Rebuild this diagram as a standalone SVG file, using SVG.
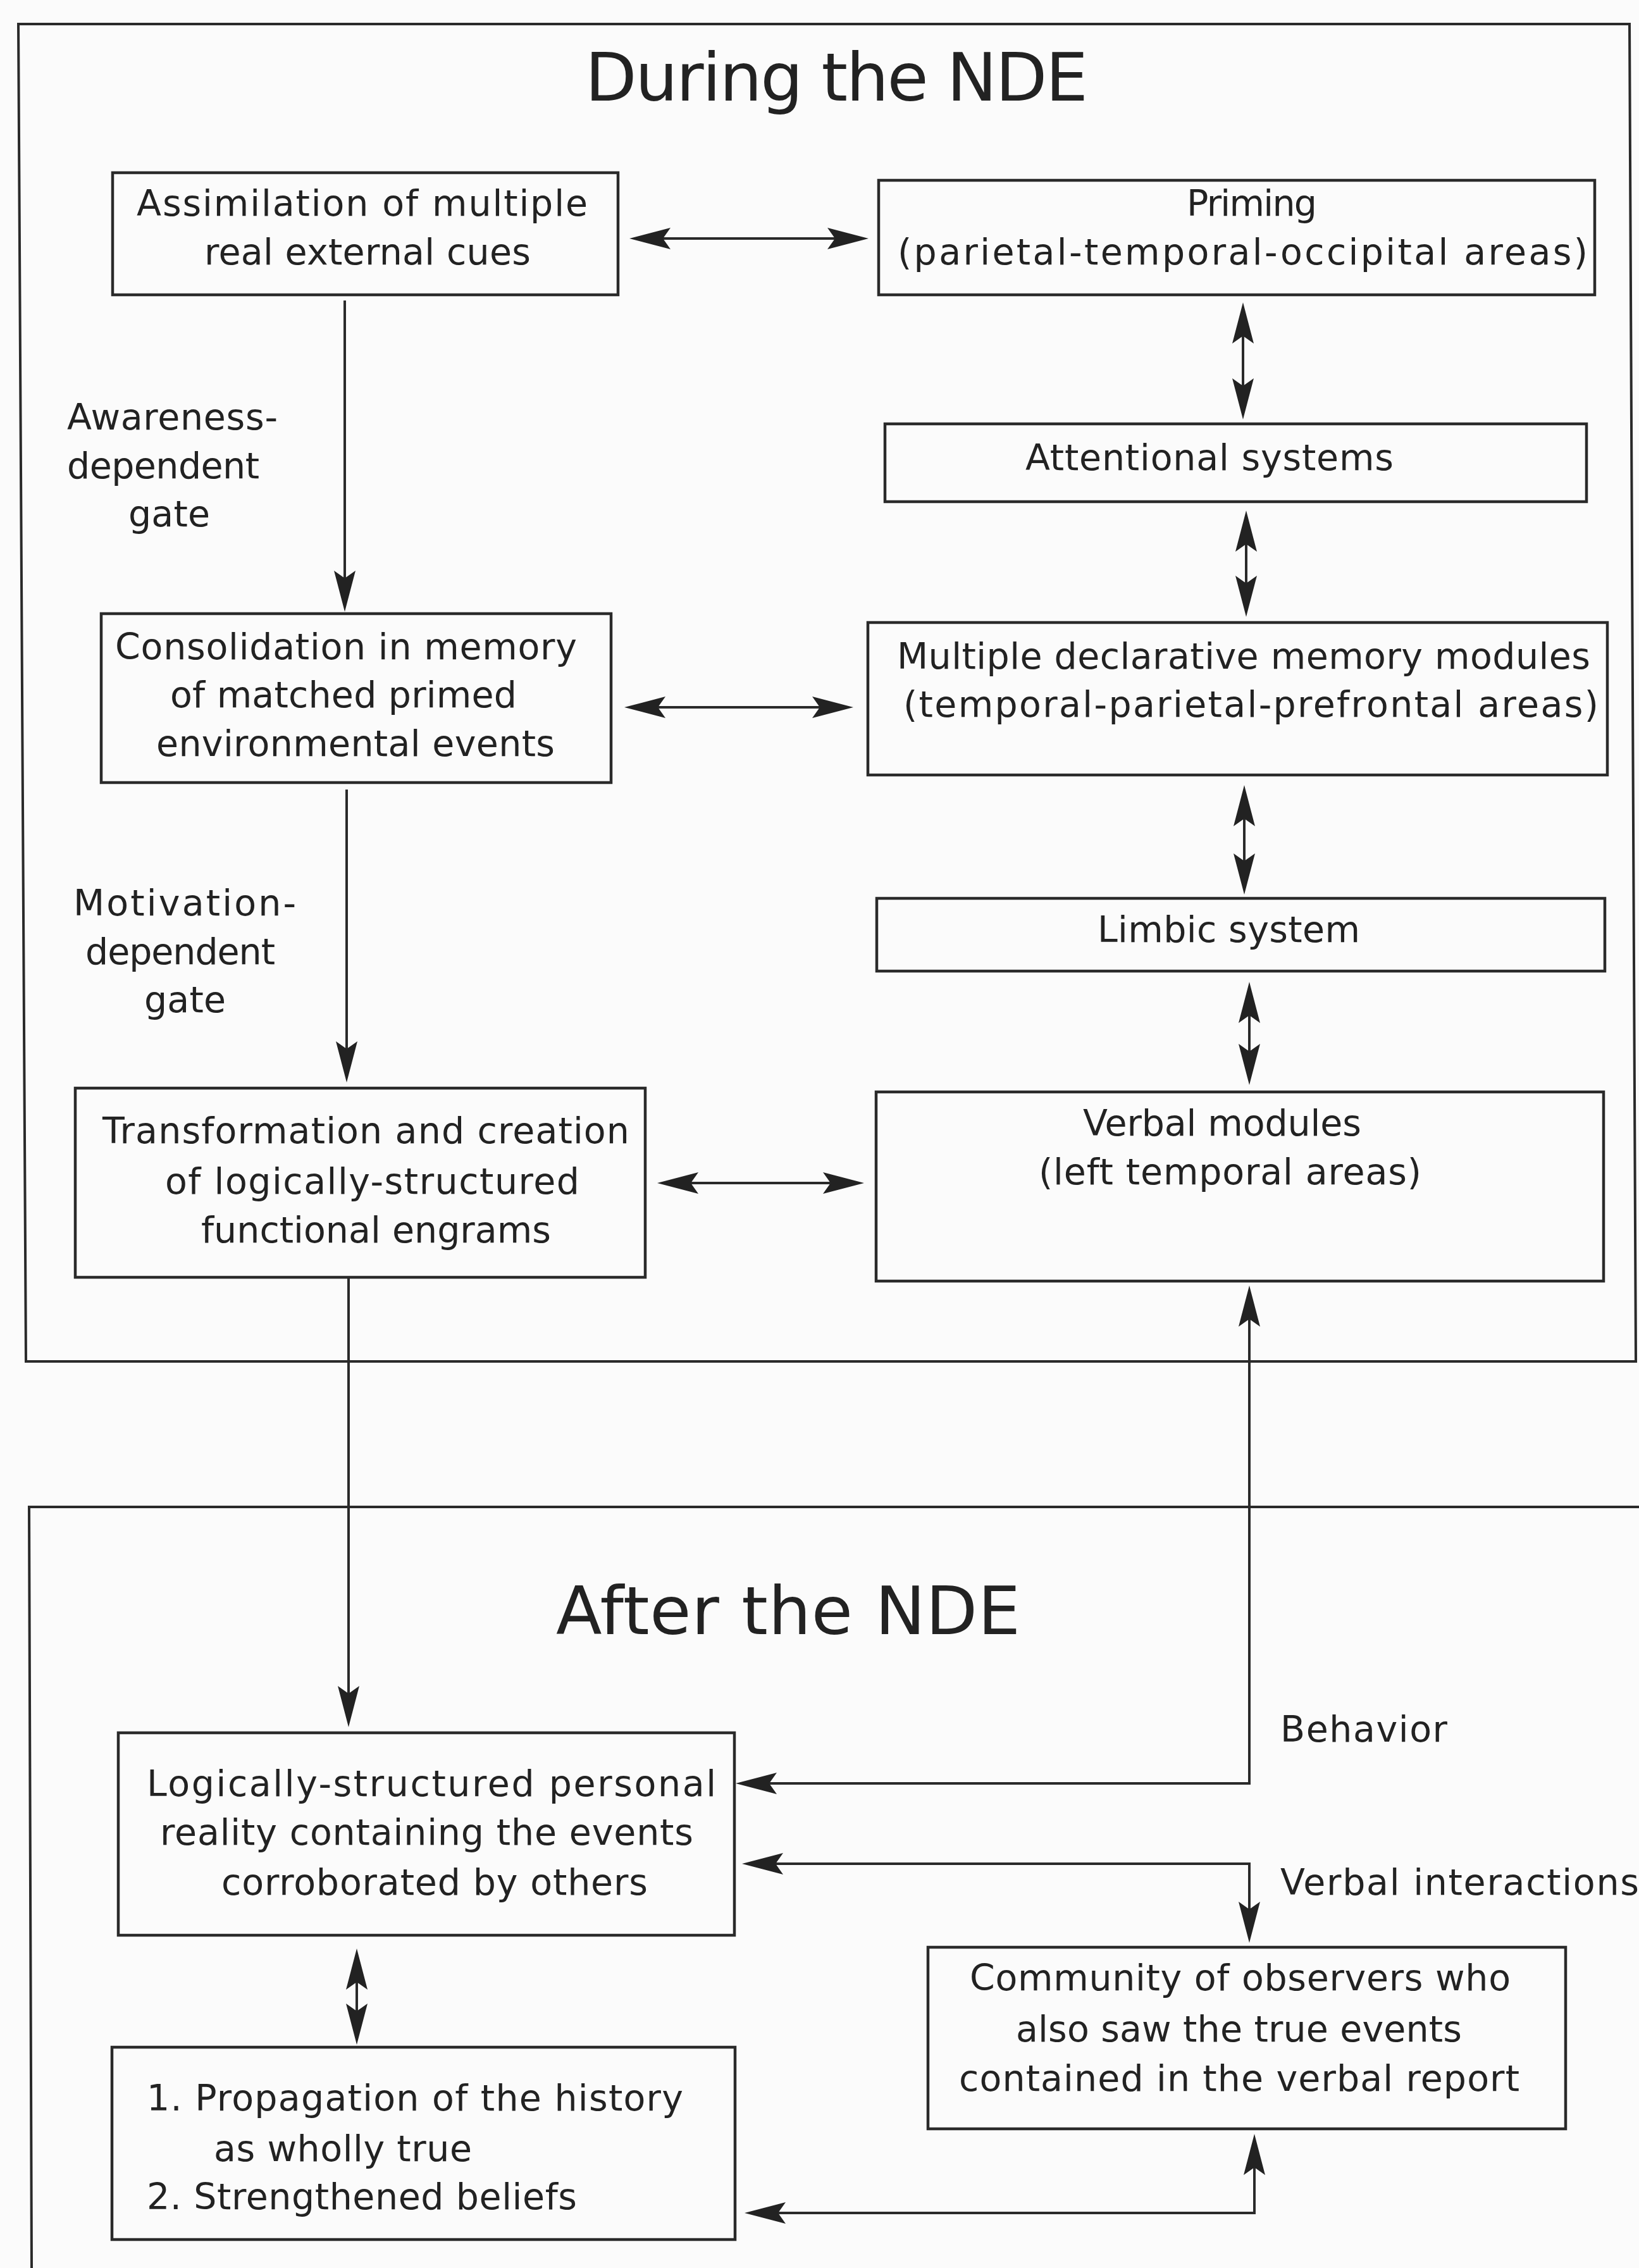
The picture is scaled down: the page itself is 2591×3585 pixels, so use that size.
<svg xmlns="http://www.w3.org/2000/svg" width="2591" height="3585" viewBox="0 0 2591 3585">
<style>
.bg{fill:#fbfbfb}
.frame{fill:none;stroke:#2a2a2a;stroke-width:4}
.box{fill:none;stroke:#2a2a2a;stroke-width:4.5}
.t{font-family:"DejaVu Sans","Liberation Sans",sans-serif;font-size:57px;fill:#222}
.title{font-family:"DejaVu Sans","Liberation Sans",sans-serif;font-size:106px;fill:#222}
.c{fill:none;stroke:#2a2a2a;stroke-width:4;marker-end:url(#ah)}
.b{marker-start:url(#ah)}
</style>
<defs>
<marker id="ah" markerUnits="userSpaceOnUse" markerWidth="68" markerHeight="36" refX="57" refY="17" orient="auto-start-reverse" viewBox="0 0 68 36">
<path d="M0,0 L65,17 L0,34 L12,17 Z" fill="#222"/>
</marker>
</defs>
<rect class="bg" x="0" y="0" width="2591" height="3585"/>

<g id="frame-during">
<path class="frame" d="M29,38 L2576,38 L2586,2152 L41,2152 Z"/>
<text class="title" x="925" y="159" textLength="795">During the NDE</text>
</g>
<g id="frame-after">
<path class="frame" d="M2591,2382 L46,2382 L50,3585"/>
<text class="title" x="879" y="2583" textLength="734">After the NDE</text>
</g>

<g id="connectors">
<line class="c b" x1="1003" y1="377" x2="1365" y2="377"/>
<line class="c" x1="545" y1="475" x2="545" y2="959"/>
<line class="c b" x1="995" y1="1118" x2="1341" y2="1118"/>
<line class="c" x1="548" y1="1248" x2="548" y2="1703"/>
<line class="c b" x1="1047" y1="1870" x2="1358" y2="1870"/>
<line class="c b" x1="1965" y1="486" x2="1965" y2="655"/>
<line class="c b" x1="1970" y1="815" x2="1970" y2="967"/>
<line class="c b" x1="1967" y1="1249" x2="1967" y2="1406"/>
<line class="c b" x1="1975" y1="1560" x2="1975" y2="1707"/>
<line class="c" x1="551" y1="2021" x2="551" y2="2722"/>
<path class="c b" d="M1171,2819 H1975 V2040"/>
<path class="c b" d="M1181,2946 H1975 V3063"/>
<path class="c b" d="M1185,3498 H1983 V3381"/>
<line class="c b" x1="564" y1="3088" x2="564" y2="3224"/>
<g id="connector-labels">
<text class="t" x="106" y="679" textLength="333">Awareness-</text>
<text class="t" x="106" y="756" textLength="304">dependent</text>
<text class="t" x="203" y="832" textLength="129">gate</text>
<text class="t" x="116" y="1447" textLength="352">Motivation-</text>
<text class="t" x="135" y="1524" textLength="300">dependent</text>
<text class="t" x="228" y="1600" textLength="129">gate</text>
<text class="t" x="2024" y="2753" textLength="264">Behavior</text>
<text class="t" x="2024" y="2995" textLength="567">Verbal interactions</text>
</g>
</g>

<g id="assimilation">
<rect class="box" x="178" y="273" width="799" height="193"/>
<text class="t" x="216" y="341" textLength="713">Assimilation of multiple</text>
<text class="t" x="323" y="418" textLength="516">real external cues</text>
</g>
<g id="priming">
<rect class="box" x="1389" y="285" width="1132" height="181"/>
<text class="t" x="1876" y="341" textLength="206">Priming</text>
<text class="t" x="1419" y="418" textLength="1091">(parietal-temporal-occipital areas)</text>
</g>
<g id="attentional">
<rect class="box" x="1399" y="670" width="1109" height="123"/>
<text class="t" x="1621" y="743" textLength="582">Attentional systems</text>
</g>
<g id="consolidation">
<rect class="box" x="160" y="970" width="806" height="267"/>
<text class="t" x="182" y="1042" textLength="730">Consolidation in memory</text>
<text class="t" x="269" y="1118" textLength="548">of matched primed</text>
<text class="t" x="247" y="1195" textLength="630">environmental events</text>
</g>
<g id="multiple">
<rect class="box" x="1372" y="984" width="1169" height="241"/>
<text class="t" x="1418" y="1057" textLength="1096">Multiple declarative memory modules</text>
<text class="t" x="1428" y="1133" textLength="1099">(temporal-parietal-prefrontal areas)</text>
</g>
<g id="limbic">
<rect class="box" x="1386" y="1420" width="1151" height="115"/>
<text class="t" x="1735" y="1489" textLength="415">Limbic system</text>
</g>
<g id="transformation">
<rect class="box" x="119" y="1720" width="901" height="299"/>
<text class="t" x="162" y="1807" textLength="833">Transformation and creation</text>
<text class="t" x="261" y="1887" textLength="655">of logically-structured</text>
<text class="t" x="318" y="1964" textLength="553">functional engrams</text>
</g>
<g id="verbal">
<rect class="box" x="1385" y="1726" width="1150" height="299"/>
<text class="t" x="1712" y="1795" textLength="440">Verbal modules</text>
<text class="t" x="1642" y="1872" textLength="605">(left temporal areas)</text>
</g>
<g id="logically">
<rect class="box" x="187" y="2739" width="974" height="320"/>
<text class="t" x="232" y="2839" textLength="900">Logically-structured personal</text>
<text class="t" x="253" y="2916" textLength="843">reality containing the events</text>
<text class="t" x="350" y="2995" textLength="674">corroborated by others</text>
</g>
<g id="propagation">
<rect class="box" x="177" y="3236" width="985" height="304"/>
<text class="t" x="232" y="3336" textLength="848">1. Propagation of the history</text>
<text class="t" x="338" y="3416" textLength="408">as wholly true</text>
<text class="t" x="232" y="3492" textLength="680">2. Strengthened beliefs</text>
</g>
<g id="community">
<rect class="box" x="1467" y="3078" width="1008" height="287"/>
<text class="t" x="1533" y="3146" textLength="855">Community of observers who</text>
<text class="t" x="1606" y="3227" textLength="705">also saw the true events</text>
<text class="t" x="1516" y="3305" textLength="886">contained in the verbal report</text>
</g>
</svg>
